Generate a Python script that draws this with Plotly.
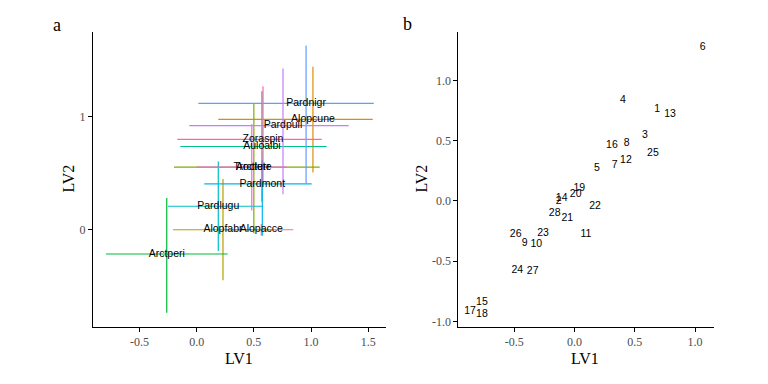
import plotly.graph_objects as go

# ---------------- Panel a data (species) ----------------
species = ["Alopacce", "Alopcune", "Alopfabr", "Arctlute", "Arctperi", "Auloalbi",
           "Pardlugu", "Pardmont", "Pardnigr", "Pardpull", "Trocterr", "Zoraspin"]
sp_lv1 = [0.565, 1.017, 0.230, 0.500, -0.262, 0.571, 0.189, 0.574, 0.957, 0.755, 0.482, 0.580]
sp_lv2 = [0.000, 0.976, 0.000, 0.554, -0.214, 0.736, 0.208, 0.405, 1.117, 0.921, 0.554, 0.800]
sp_lv1_lo = [0.250, 0.189, -0.207, -0.199, -0.794, -0.143, -0.251, 0.066, 0.014, -0.065, 0.000, -0.170]
sp_lv1_hi = [0.845, 1.540, 0.660, 1.076, 0.271, 1.137, 0.574, 1.006, 1.549, 1.330, 0.787, 1.094]
sp_lv2_lo = [-0.050, 0.507, -0.446, -0.030, -0.733, 0.250, -0.187, -0.053, 0.405, 0.314, 0.170, 0.422]
sp_lv2_hi = [0.050, 1.442, 0.449, 1.115, 0.281, 1.225, 0.604, 0.620, 1.630, 1.425, 0.932, 1.269]
sp_colors = ["#F8766D", "#DE8C00", "#B79F00", "#7CAE00", "#00BA38", "#00C08B",
             "#00BFC4", "#00B4F0", "#619CFF", "#C77CFF", "#F564E3", "#FF64B0"]

# ---------------- Panel b data (sites) ----------------
sites = [str(i) for i in range(1, 29)]
site_lv1 = [0.685, -0.131, 0.585, 0.402, 0.187, 1.064, 0.334, 0.433, -0.413, -0.317,
            0.095, 0.427, 0.793, -0.106, -0.768, 0.311, -0.867, -0.768, 0.040, 0.010,
            -0.060, 0.170, -0.261, -0.475, 0.651, -0.488, -0.347, -0.164]
site_lv2 = [0.760, -0.006, 0.545, 0.835, 0.270, 1.279, 0.298, 0.479, -0.350, -0.358,
            -0.281, 0.339, 0.719, 0.022, -0.845, 0.463, -0.920, -0.940, 0.105, 0.052,
            -0.143, -0.047, -0.267, -0.573, 0.394, -0.275, -0.587, -0.107]

# ---------------- Ticks ----------------
a_xticks = [-0.5, 0.0, 0.5, 1.0, 1.5]
a_xtext = ["-0.5", "0.0", "0.5", "1.0", "1.5"]
a_yticks = [0, 1]
a_ytext = ["0", "1"]
b_xticks = [-0.5, 0.0, 0.5, 1.0]
b_xtext = ["-0.5", "0.0", "0.5", "1.0"]
b_yticks = [-1.0, -0.5, 0.0, 0.5, 1.0]
b_ytext = ["-1.0", "-0.5", "0.0", "0.5", "1.0"]

OFF = 8  # page body margin
W, H = 768 - OFF, 384 - OFF
fig = go.Figure()

for i, sp in enumerate(species):
    fig.add_trace(go.Scatter(
        x=[sp_lv1_lo[i], sp_lv1_hi[i], None, sp_lv1[i], sp_lv1[i]],
        y=[sp_lv2[i], sp_lv2[i], None, sp_lv2_lo[i], sp_lv2_hi[i]],
        mode="lines", line=dict(color=sp_colors[i], width=1.2),
        xaxis="x", yaxis="y", showlegend=False, hoverinfo="skip"))

fig.add_trace(go.Scatter(
    x=sp_lv1, y=sp_lv2, text=species, mode="text", textposition="middle center",
    textfont=dict(family="Liberation Sans, Arial, sans-serif", size=10.5, color="#000000"),
    xaxis="x", yaxis="y", showlegend=False))

fig.add_trace(go.Scatter(
    x=site_lv1, y=site_lv2, text=sites, mode="text", textposition="middle center",
    textfont=dict(family="Liberation Sans, Arial, sans-serif", size=10.5, color="#000000"),
    xaxis="x2", yaxis="y2", showlegend=False))

def px2x(p):
    return (p - OFF) / W

def px2y(p):
    return 1 - (p - OFF) / H

tickfont = dict(family="Liberation Serif, Times New Roman, serif", size=12, color="#4d4d4d")
axis_common = dict(showgrid=False, zeroline=False, showline=True, linecolor="black",
                   linewidth=1, ticks="outside", ticklen=4, tickcolor="black",
                   tickwidth=1, tickfont=tickfont, tickmode="array")

ydom = [px2y(328.3), px2y(32.3)]
fig.update_layout(
    width=W, height=H,
    margin=dict(l=0, r=0, t=0, b=0),
    paper_bgcolor="white", plot_bgcolor="white",
    xaxis=dict(domain=[px2x(93), px2x(386)], range=[-0.907, 1.656],
               tickvals=a_xticks, ticktext=a_xtext, anchor="y", **axis_common),
    yaxis=dict(domain=ydom, range=[-0.856, 1.747],
               tickvals=a_yticks, ticktext=a_ytext, anchor="x", **axis_common),
    xaxis2=dict(domain=[px2x(458.3), px2x(714.3)], range=[-0.964, 1.160],
                tickvals=b_xticks, ticktext=b_xtext, anchor="y2", **axis_common),
    yaxis2=dict(domain=ydom, range=[-1.044, 1.402],
                tickvals=b_yticks, ticktext=b_ytext, anchor="x2", **axis_common),
)

serif_title = dict(family="Liberation Serif, Times New Roman, serif", size=16, color="#000000")
panel_font = dict(family="Liberation Serif, Times New Roman, serif", size=18, color="#000000")
ann = [
    dict(text="LV1", x=px2x(239), y=px2y(360), font=serif_title, textangle=0),
    dict(text="LV1", x=px2x(585), y=px2y(360), font=serif_title, textangle=0),
    dict(text="LV2", x=px2x(68.5), y=px2y(180), font=serif_title, textangle=-90),
    dict(text="LV2", x=px2x(421.5), y=px2y(180), font=serif_title, textangle=-90),
    dict(text="a", x=px2x(56.5), y=px2y(25), font=panel_font, textangle=0),
    dict(text="b", x=px2x(407.5), y=px2y(24), font=panel_font, textangle=0),
]
for a in ann:
    fig.add_annotation(xref="paper", yref="paper", showarrow=False,
                       xanchor="center", yanchor="middle", **a)

fig.write_html("out.html")
